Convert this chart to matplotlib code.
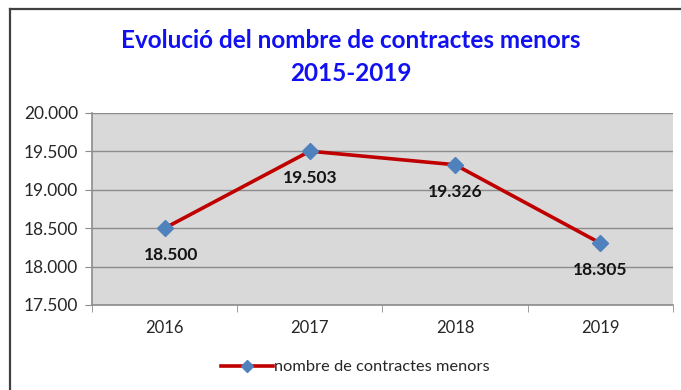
import matplotlib
matplotlib.use("Agg")
import matplotlib.pyplot as plt
from matplotlib.lines import Line2D
from matplotlib.ticker import FixedLocator, FuncFormatter

years = ["2016", "2017", "2018", "2019"]
contracts = [18500, 19503, 19326, 18305]
series_name = "nombre de contractes menors"
title = "Evolució del nombre de contractes menors\n2015-2019"

plt.rcParams["font.family"] = ["Lato", "DejaVu Sans"]

W, H = 681, 390
fig = plt.figure(figsize=(W / 100, H / 100), dpi=100)
fig.patch.set_facecolor("white")

# outer chart frame (left and top edges)
fig.add_artist(Line2D([10 / W, 10 / W], [0, 1 - 9 / H], color="#404040", lw=1.6))
fig.add_artist(Line2D([10 / W, 1], [1 - 9 / H, 1 - 9 / H], color="#404040", lw=1.6))

left, right, top, bottom = 92, 673, 113, 305
ax = fig.add_axes([left / W, 1 - bottom / H, (right - left) / W, (bottom - top) / H])
ax.set_facecolor("#D9D9D9")

x = list(range(len(years)))
ax.plot(x, contracts, color="#C00000", lw=2.6, marker="D", markersize=8,
        markerfacecolor="#4F81BD", markeredgecolor="#4F81BD", zorder=3)

def fmt(v):
    return f"{v:,.0f}".replace(",", ".")

offsets = [6, 0, 0, 0]
for xi, v, dx in zip(x, contracts, offsets):
    ax.annotate(fmt(v), (xi, v), xytext=(dx, -27), textcoords="offset pixels",
                ha="center", va="center", fontsize=12.5, fontweight="bold",
                color="#141414", zorder=4)

ax.set_xlim(-0.5, len(years) - 0.5)
ax.set_ylim(17500, 20000)
ax.yaxis.set_major_locator(FixedLocator([17500, 18000, 18500, 19000, 19500, 20000]))
ax.yaxis.set_major_formatter(FuncFormatter(lambda v, p: fmt(v)))
ax.grid(axis="y", color="#8C8C8C", lw=1.0)
ax.set_axisbelow(True)

ax.set_xticks(x)
ax.set_xticklabels(years)
ax.set_xticks([i - 0.5 for i in range(len(years) + 1)], minor=True)
ax.tick_params(axis="x", which="major", length=0, pad=11, labelsize=12, labelcolor="#262626")
ax.tick_params(axis="x", which="minor", length=5, color="#8C8C8C", direction="out")
ax.tick_params(axis="y", length=5, color="#8C8C8C", direction="out", pad=5,
               labelsize=12.5, labelcolor="#262626")

for side in ["top", "right"]:
    ax.spines[side].set_visible(False)
for side in ["left", "bottom"]:
    ax.spines[side].set_color("#8C8C8C")
    ax.spines[side].set_linewidth(1.2)

fig.text(351 / W, 1 - 57 / H, title, ha="center", va="center", fontsize=17.5,
         fontweight="bold", color="#1010F0", linespacing=1.5)

handle = Line2D([], [], color="#C00000", lw=2.6, marker="D", markersize=6,
                markerfacecolor="#4F81BD", markeredgecolor="#4F81BD")
fig.legend(handles=[handle], labels=[series_name], loc="center",
           bbox_to_anchor=(355 / W, 1 - 367 / H), frameon=False, fontsize=11.8,
           handlelength=3.2, handletextpad=0.05, labelcolor="#262626")

fig.savefig("out.png", dpi=100, facecolor="white")
